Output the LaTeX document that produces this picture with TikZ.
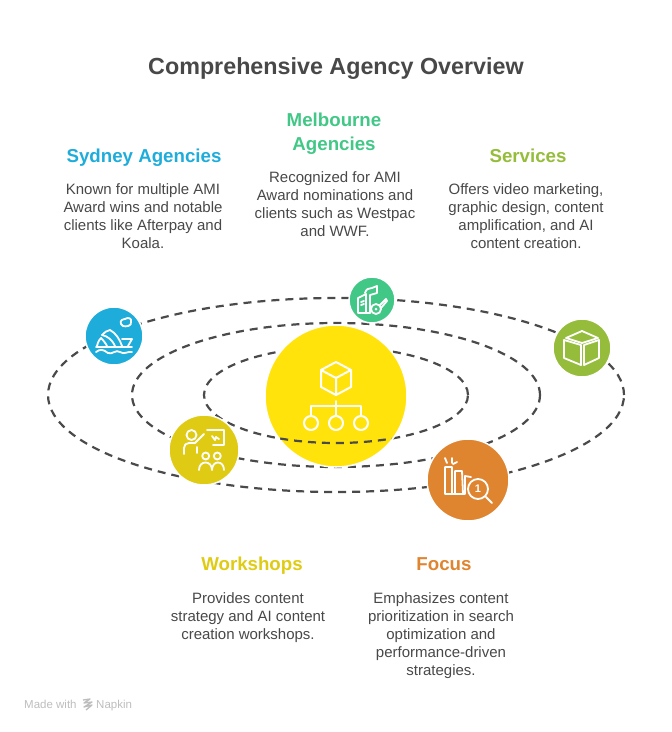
\documentclass[tikz,border=0pt]{standalone}
\usepackage{fontspec}
\setmainfont{Liberation Sans}
\usetikzlibrary{shapes.geometric}
\definecolor{inktext}{HTML}{484848}
\definecolor{orbitline}{HTML}{4A4A4A}
\definecolor{coreyellow}{HTML}{FFE30A}
\definecolor{sydneyblue}{HTML}{1EACDB}
\definecolor{melbgreen}{HTML}{41C786}
\definecolor{servgreen}{HTML}{95BD3B}
\definecolor{workyellow}{HTML}{DFCB14}
\definecolor{focusorange}{HTML}{DF842F}
\definecolor{markgrey}{HTML}{BDBDBD}
\tikzset{
	orbit/.style={ellipse,draw=orbitline,line width=2.2pt,inner sep=0pt,dash pattern=on 8pt off 6pt},
	orbitfront/.style={draw=orbitline,line width=2.2pt,dash pattern=on 8pt off 6pt},
	bubble/.style={circle,draw=white,line width=1.5pt,inner sep=0pt},
	iconline/.style={draw=white,line width=1.8pt,line join=round,line cap=round},
	head/.style={font=\fontsize{18.7}{24}\selectfont\bfseries,align=center,inner sep=0pt},
	body/.style={font=\fontsize{15}{18}\selectfont,text=inktext,align=center,inner sep=0pt},
	credit/.style={font=\fontsize{11.5}{14}\selectfont,text=markgrey,inner sep=0pt},
}
\begin{document}
\begin{tikzpicture}[x=1pt,y=-1pt]
	\useasboundingbox (0,0) rectangle (672,732);
	\node [font=\fontsize{23.3}{28}\selectfont\bfseries,text=inktext,inner sep=0pt] (title) at(336,69) {Comprehensive Agency Overview};
	% texts
	\node [head,text=sydneyblue] (sydneyhead) at(144,158) {Sydney Agencies};
	\node [body] (sydneytext) at(143,216) {Known for multiple AMI\\Award wins and notable\\clients like Afterpay and\\Koala.};
	\node [head,text=melbgreen] (melbhead) at(334,133.5) {Melbourne\\Agencies};
	\node [body] (melbtext) at(335,204) {Recognized for AMI\\Award nominations and\\clients such as Westpac\\and WWF.};
	\node [head,text=servgreen] (servhead) at(528,156) {Services};
	\node [body] (servtext) at(526,216) {Offers video marketing,\\graphic design, content\\amplification, and AI\\content creation.};
	\node [head,text=workyellow] (workhead) at(252,566) {Workshops};
	\node [body] (worktext) at(248,618) {Provides content\\strategy and AI content\\creation workshops.};
	\node [head,text=focusorange] (focushead) at(444,564) {Focus};
	\node [body] (focustext) at(441,636) {Emphasizes content\\prioritization in search\\optimization and\\performance-driven\\strategies.};
	% orbits, then the core, then the front of the inner orbit
	\node [orbit,minimum width=576pt,minimum height=194pt] (orbitout) at(336,395) {};
	\node [orbit,minimum width=408pt,minimum height=144pt] (orbitmid) at(336,395) {};
	\node [orbit,minimum width=264pt,minimum height=96pt] (orbitin) at(336,395) {};
	\node [bubble,fill=coreyellow,minimum size=142pt] (core) at(336,396) {};
	\draw [orbitfront] (orbitin.center) ++(245:132pt and 48pt) arc[start angle=245,end angle=295,x radius=132pt,y radius=48pt];
	% bubbles
	\node [bubble,fill=sydneyblue,minimum size=58pt] (sydney) at(114,336) {};
	\node [bubble,fill=melbgreen,minimum size=46pt] (melb) at(372,300) {};
	\node [bubble,fill=servgreen,minimum size=58pt] (serv) at(582,348) {};
	\node [bubble,fill=workyellow,minimum size=70pt] (work) at(204,450) {};
	\node [bubble,fill=focusorange,minimum size=82pt] (focus) at(468,480) {};
	% core icon
	\draw [iconline,line width=2pt] (336,362) -- (351,370) -- (351,387) -- (336,395) -- (321,387) -- (321,370) -- cycle (321,370) -- (336,378) -- (351,370) (336,378) -- (336,395);
	\draw [iconline,line width=2pt] (336,401) -- (336,416) (311,416) -- (311,406) -- (361,406) -- (361,416);
	\foreach \cx in {311,336,361}
		\draw [iconline,line width=2pt] (\cx,423) circle[radius=7pt];
	% sydney icon
	\draw [iconline] (121,324) .. controls (119,320) and (124,319) .. (125,319) .. controls (128,317) and (132,318) .. (131,322) .. controls (132,326) and (126,327) .. (123,326) -- cycle;
	\draw [iconline] (96,347) -- (132,347);
	\draw [iconline] (97,346) .. controls (98,341) and (100,339) .. (101,338) .. controls (104,341) and (106,344) .. (107,346);
	\draw [iconline] (102,335) .. controls (108,336) and (113,341) .. (115,346);
	\draw [iconline] (102,335) .. controls (104,332) and (107,331) .. (110,330) .. controls (116,333) and (120,340) .. (122,346);
	\draw [iconline] (122,339) -- (132,339) -- (128,346);
	\draw [iconline] (96,352) .. controls (100,349) and (103,349) .. (108,353) .. controls (112,355) and (116,349) .. (120,352) .. controls (124,355) and (128,351) .. (132,352);
	% melbourne icon
	\draw [iconline] (358,313) -- (358,298) -- (366,294) -- (366,313) (358,313) -- (370,313) (361,302) -- (364,301) (361,305) -- (364,304);
	\draw [iconline] (365,293) .. controls (366,289) and (369,288) .. (372,288) -- (377,286) -- (377,293) -- (370,295) -- (370,313);
	\draw [iconline] (376,309) circle[radius=5pt] (380,305) -- (386,299) -- (387,301) -- (381,308);
	\fill [white] (376,309) circle[radius=1.5pt];
	% services icon
	\draw [iconline] (582,331) -- (598,338) -- (582,343) -- (566,338) -- cycle;
	\draw [iconline] (564,340) -- (564,358) -- (581,365) -- (581,345) -- cycle;
	\draw [iconline] (584,345) -- (599,340) -- (599,358) -- (584,365) -- cycle;
	% workshops icon
	\draw [iconline] (191.5,435) circle[radius=5pt] (184,454) -- (184,448) .. controls (184,445) and (186,443) .. (189,443) -- (195,443) -- (204,434) (197,447) -- (197,453);
	\draw [iconline] (207,430) -- (224,430) -- (224,445) -- (213,445) (212,436) -- (215,440) -- (216,437) -- (219,439);
	\draw [iconline] (205.7,456) circle[radius=3.5pt] (217.3,456) circle[radius=3.5pt];
	\draw [iconline] (199,470) .. controls (199,460) and (212,460) .. (212,470) .. controls (212,460) and (224,460) .. (224,470);
	% focus icon
	\draw [iconline] (445,494) -- (445,467) -- (452,467) -- (452,494) (455,494) -- (455,471) -- (462,471) -- (463,494) (465,494) -- (465,476) -- (471,477) (445,494) -- (465,494);
	\draw [iconline] (445,458) -- (447,463) (452,458) -- (452,463) (453,464) -- (457,462);
	\draw [iconline] (478,489) circle[radius=10pt] (486,497) -- (492,503);
	\node [font=\fontsize{11}{12}\selectfont\bfseries,text=white,inner sep=0pt] (rank) at(478,489) {1};
	% credit line
	\node [credit,anchor=base west] (madewith) at(24,708) {Made with};
	\node [credit,anchor=base west] (napkin) at(96,708) {Napkin};
	\draw [markgrey,line width=1.3pt,line join=round] (83,700) -- (90,699) -- (84,703) -- (92,702) -- (84,707) -- (92,705) -- (86,710);
\end{tikzpicture}
\end{document}
